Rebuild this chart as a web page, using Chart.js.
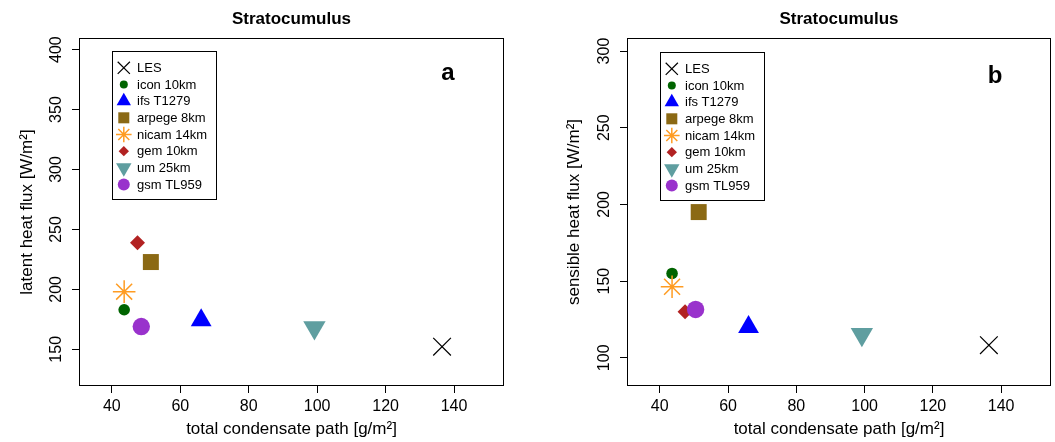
<!DOCTYPE html>
<html>
<head>
<meta charset="utf-8">
<title>Stratocumulus</title>
<script src="https://cdn.jsdelivr.net/npm/chart.js@4.4.1/dist/chart.umd.min.js"></script>
<style>
  html, body { margin: 0; padding: 0; background: #fff; }
  #wrap { position: relative; width: 1055px; height: 442px; overflow: hidden; }
  canvas { position: absolute; top: 0; }
  #chartA { left: 0; }
  #chartB { left: 530px; }
</style>
</head>
<body>
<div id="wrap">
  <canvas id="chartA" width="530" height="442"></canvas>
  <canvas id="chartB" width="525" height="442"></canvas>
</div>
<script>
  // ── Data ──────────────────────────────────────────
  const models = ['LES', 'icon 10km', 'ifs T1279', 'arpege 8km', 'nicam 14km', 'gem 10km', 'um 25km', 'gsm TL959'];
  const condPathA = [136.5, 43.6, 66.1, 51.4, 43.6, 47.5, 99.2, 48.6];   // g/m2
  const latentFlux = [152.2, 183.0, 174.2, 222.8, 198.1, 238.8, 168.1, 169.0]; // W/m2
  const condPathB = [136.4, 43.6, 66.0, 51.4, 43.6, 47.4, 99.2, 50.5];
  const sensibleFlux = [108.2, 155.0, 120.0, 195.0, 146.3, 130.0, 115.2, 131.5];
  const xTicks = [40, 60, 80, 100, 120, 140];
  const latentTicks = [150, 200, 250, 300, 350, 400];
  const sensibleTicks = [100, 150, 200, 250, 300];

  // ── Look ──────────────────────────────────────────
  const FONT = '"Liberation Sans", Arial, Helvetica, sans-serif';
  Chart.defaults.font.family = FONT;
  Chart.defaults.color = '#000';

  // one marker per model (R pch look-alikes)
  const markers = [
    { style: 'crossRot', r: 12.5, color: '#000000', line: 1.2 },
    { style: 'circle',   r: 5.8,  color: '#006400' },
    { style: 'triangle', r: 12,   color: '#0000ff' },
    { style: 'rect',     r: 11.3, color: '#8b6914' },
    { style: 'star',     r: 11.3, color: '#ff9c22', line: 1.5 },
    { style: 'rectRot',  r: 7.5,  color: '#b22222' },
    { style: 'triangle', r: 12.9, color: '#5f9ea0', rot: 180 },
    { style: 'circle',   r: 8.7,  color: '#9932cc' }
  ];
  const LEGEND_SCALE = 0.69;

  // ── Frame, title, panel letter, legend ────────────
  const framePlugin = {
    id: 'frame',
    afterDraw(chart, args, opts) {
      const { ctx, chartArea: a, scales: { x, y } } = chart;
      ctx.save();
      ctx.strokeStyle = '#000'; ctx.lineWidth = 1;
      ctx.strokeRect(Math.round(a.left) + 0.5, Math.round(a.top) + 0.5,
                     Math.round(a.right - a.left) - 1, Math.round(a.bottom - a.top) - 1);

      ctx.fillStyle = '#000';
      ctx.textAlign = 'center'; ctx.textBaseline = 'alphabetic';
      ctx.font = 'bold 17px ' + FONT;
      ctx.fillText('Stratocumulus', (a.left + a.right) / 2, 23.5);
      ctx.font = 'bold 24px ' + FONT;
      ctx.fillText(opts.letter, a.right - 56, opts.letterY);

      // legend box anchored at first x tick / top y tick
      const yTop = opts.yTicks[opts.yTicks.length - 1];
      const lx = Math.round(x.getPixelForValue(xTicks[0])) + 0.5;
      const ly = Math.round(y.getPixelForValue(yTop)) + 1.5;
      ctx.fillStyle = '#fff';
      ctx.fillRect(lx, ly, 104, 148);
      ctx.strokeRect(lx, ly, 104, 148);

      ctx.font = '13px ' + FONT;
      ctx.textAlign = 'left'; ctx.textBaseline = 'middle';
      chart.data.datasets.forEach((ds, i) => {
        const m = markers[i];
        const cy = ly + 16.3 + i * 16.67;
        ctx.fillStyle = m.line ? 'rgba(0,0,0,0)' : m.color;
        ctx.strokeStyle = m.color;
        ctx.lineWidth = m.line || 0;
        Chart.helpers.drawPoint(ctx, {
          pointStyle: m.style, radius: m.r * LEGEND_SCALE,
          rotation: m.rot || 0, borderWidth: m.line || 0
        }, lx + 11.3, cy);
        ctx.fillStyle = '#000';
        ctx.fillText(ds.label, lx + 24.5, cy + 0.5);
      });
      ctx.restore();
    }
  };

  // ── Chart factory ─────────────────────────────────
  function makeChart(id, xs, ys, yTicks, yMin, yMax, yTitle, cfg) {
    const tickGrid = { drawOnChartArea: false, drawTicks: true, tickLength: 7, color: '#000', lineWidth: 1 };
    return new Chart(document.getElementById(id), {
      type: 'scatter',
      data: {
        datasets: models.map((name, i) => ({
          label: name,
          data: [{ x: xs[i], y: ys[i] }],
          order: -i,
          pointStyle: markers[i].style,
          pointRadius: markers[i].r,
          pointRotation: markers[i].rot || 0,
          pointBackgroundColor: markers[i].line ? 'rgba(0,0,0,0)' : markers[i].color,
          pointBorderColor: markers[i].color,
          pointBorderWidth: markers[i].line || 0
        }))
      },
      options: {
        responsive: false, animation: false, events: [],
        layout: { autoPadding: false, padding: { left: 0, top: 38, right: cfg.padRight, bottom: 0 } },
        plugins: {
          legend: { display: false }, tooltip: { enabled: false },
          frame: { letter: cfg.letter, letterY: cfg.letterY, yTicks }
        },
        scales: {
          x: {
            type: 'linear', min: 30.4, max: 154.6, bounds: 'data',
            afterBuildTicks: s => { s.ticks = xTicks.map(v => ({ value: v })); },
            afterFit: s => { s.height = 56; s.paddingLeft = 0; s.paddingRight = 0; },
            grid: tickGrid, border: { display: false },
            ticks: { padding: 4.4, autoSkip: false, maxRotation: 0, font: { size: 16 }, color: '#000' },
            title: { display: true, text: 'total condensate path [g/m²]', font: { size: 17 }, color: '#000',
                     padding: { top: 0, bottom: 2.2 } }
          },
          y: {
            type: 'linear', min: yMin, max: yMax, bounds: 'data',
            afterBuildTicks: s => { s.ticks = yTicks.map(v => ({ value: v })); },
            afterFit: s => { s.width = cfg.yWidth; s.paddingTop = 0; s.paddingBottom = 0; },
            grid: tickGrid, border: { display: false },
            ticks: { padding: 2, autoSkip: false, minRotation: 90, maxRotation: 90, crossAlign: 'center',
                     font: { size: 16 }, color: '#000' },
            title: { display: true, text: yTitle, font: { size: 17 }, color: '#000',
                     padding: { top: cfg.titlePad, bottom: 0 } }
          }
        }
      },
      plugins: [framePlugin]
    });
  }

  makeChart('chartA', condPathA, latentFlux, latentTicks, 119.4, 409.7, 'latent heat flux [W/m²]',
            { padRight: 26, yWidth: 79, titlePad: 17.4, letter: 'a', letterY: 80 });
  makeChart('chartB', condPathB, sensibleFlux, sensibleTicks, 81.6, 308.5, 'sensible heat flux [W/m²]',
            { padRight: 4, yWidth: 97, titlePad: 33.9, letter: 'b', letterY: 83.3 });
</script>
</body>
</html>
